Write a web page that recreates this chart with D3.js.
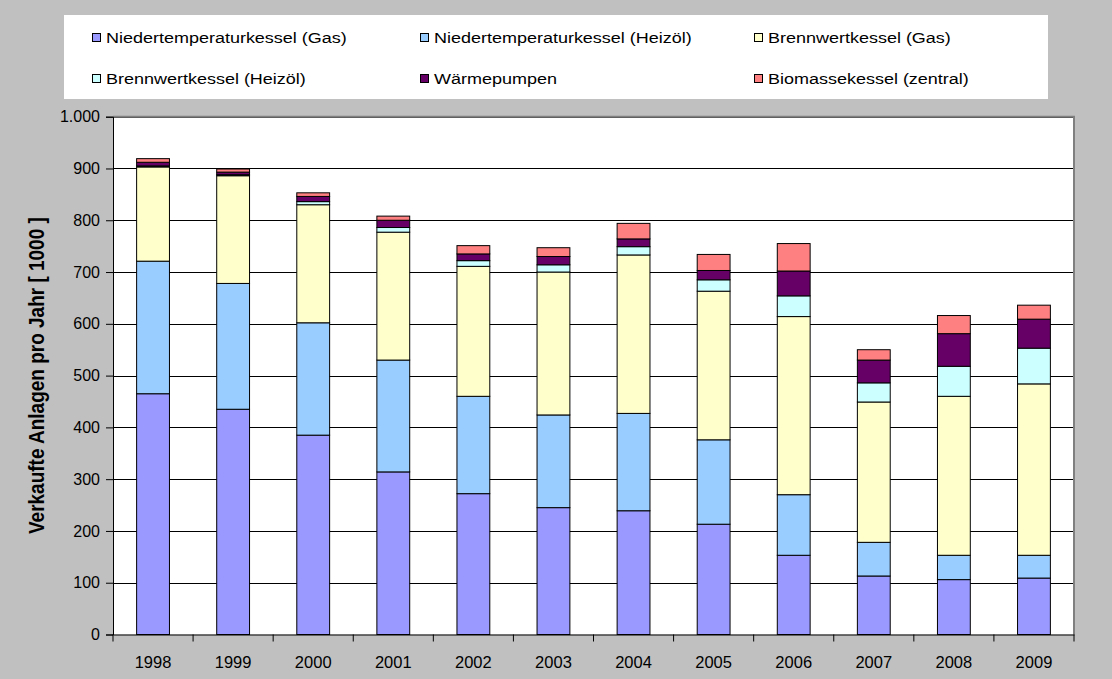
<!DOCTYPE html>
<html>
<head>
<meta charset="utf-8">
<script src="https://cdn.jsdelivr.net/npm/d3@7"></script>
<style>
  html, body { margin: 0; padding: 0; background: #c0c0c0; }
  #chart { width: 1112px; height: 679px; }
  text { font-family: Arial, "Liberation Sans", sans-serif; fill: #000; }
</style>
</head>
<body>
<div id="chart"></div>
<script>
// years and series values (in 1000 units sold per year)
const years = ["1998", "1999", "2000", "2001", "2002", "2003", "2004", "2005", "2006", "2007", "2008", "2009"];
const seriesNames = [
  "Niedertemperaturkessel (Gas)",
  "Niedertemperaturkessel (Heizöl)",
  "Brennwertkessel (Gas)",
  "Brennwertkessel (Heizöl)",
  "Wärmepumpen",
  "Biomassekessel (zentral)"
];
const ntGas = [465, 435, 385, 314, 272, 245, 239, 213, 153, 113, 106, 109];
const ntOil = [256, 243, 217, 216, 188, 179, 188, 163, 117, 65, 47, 44];
const bwGas = [182, 208, 228, 247, 251, 276, 306, 287, 344, 271, 307, 331];
const bwOil = [2, 2, 6, 9, 11, 14, 16, 22, 40, 37, 58, 69];
const heatPumps = [7, 5, 10, 14, 13, 16, 15, 18, 48, 44, 63, 56];
const biomass = [7, 6, 7, 8, 16, 17, 30, 31, 53, 20, 35, 27];
const yTicks = [0, 100, 200, 300, 400, 500, 600, 700, 800, 900, 1000];
const colors = ["#9999ff", "#99ccff", "#ffffcc", "#ccffff", "#660066", "#ff8080"];

const width = 1112, height = 679;
const plot = { left: 113, right: 1074, top: 116.7, bottom: 634.5 };

const svg = d3.select("#chart").append("svg")
  .attr("width", width)
  .attr("height", height);

svg.append("rect").attr("width", width).attr("height", height).attr("fill", "#c0c0c0");

// legend box
const legend = svg.append("g");
legend.append("rect")
  .attr("x", 64).attr("y", 15)
  .attr("width", 984).attr("height", 84)
  .attr("fill", "#fff");

const legendPos = [[92, 38], [420, 38], [754, 38], [92, 79], [420, 79], [754, 79]];
seriesNames.forEach((name, i) => {
  const [lx, ly] = legendPos[i];
  legend.append("rect")
    .attr("x", lx + 0.5).attr("y", ly - 4.5)
    .attr("width", 8).attr("height", 8)
    .attr("fill", colors[i])
    .attr("stroke", "#000").attr("stroke-width", 1);
  legend.append("text")
    .attr("transform", `translate(${lx + 14},${ly}) scale(1.2,1)`)
    .attr("dy", "0.35em")
    .style("font-size", "15px")
    .text(name);
});

// scales
const x = d3.scaleBand()
  .domain(years)
  .range([plot.left, plot.right])
  .paddingInner(0.59)
  .paddingOuter(0.295);

const y = d3.scaleLinear()
  .domain([0, 1000])
  .range([plot.bottom, plot.top]);

// plot area
svg.append("rect")
  .attr("x", plot.left).attr("y", plot.top)
  .attr("width", plot.right - plot.left).attr("height", plot.bottom - plot.top)
  .attr("fill", "#fff");

// gridlines
svg.append("g")
  .selectAll("line")
  .data(yTicks.filter(d => d > 0))
  .join("line")
  .attr("x1", plot.left).attr("x2", plot.right)
  .attr("y1", d => Math.round(y(d)) + 0.5).attr("y2", d => Math.round(y(d)) + 0.5)
  .attr("stroke", "#000").attr("stroke-width", 1);

// plot border (top/right)
svg.append("path")
  .attr("d", `M${plot.left},${plot.top}H${plot.right}V${plot.bottom}`)
  .attr("fill", "none")
  .attr("stroke", "#808080").attr("stroke-width", 2);

// stacked bars
const table = years.map((yr, i) => ({
  year: yr,
  s0: ntGas[i], s1: ntOil[i], s2: bwGas[i], s3: bwOil[i], s4: heatPumps[i], s5: biomass[i]
}));
const stacked = d3.stack().keys(["s0", "s1", "s2", "s3", "s4", "s5"])(table);

svg.append("g")
  .selectAll("g")
  .data(stacked)
  .join("g")
  .attr("fill", (d, i) => colors[i])
  .selectAll("rect")
  .data(d => d)
  .join("rect")
  .attr("x", d => x(d.data.year))
  .attr("width", x.bandwidth())
  .attr("y", d => y(d[1]))
  .attr("height", d => y(d[0]) - y(d[1]))
  .attr("stroke", "#000")
  .attr("stroke-width", 1);

// y axis
const yAxis = svg.append("g")
  .attr("transform", `translate(${plot.left},0)`)
  .call(d3.axisLeft(y)
    .tickValues(yTicks)
    .tickSize(7)
    .tickPadding(6)
    .tickFormat(d => d3.format(",")(d).replace(",", ".")));
yAxis.selectAll("text").style("font-size", "16px").attr("fill", "#000");
yAxis.selectAll("line, path").attr("stroke", "#000");

// x axis
const xAxis = svg.append("g")
  .attr("transform", `translate(0,${plot.bottom})`)
  .call(d3.axisBottom(x).tickSize(0).tickPadding(22));
xAxis.selectAll("text").style("font-size", "16.5px").attr("fill", "#000");
xAxis.select("path").attr("stroke", "#000");
// category separator ticks
xAxis.append("g")
  .selectAll("line")
  .data(d3.range(years.length + 1))
  .join("line")
  .attr("x1", i => plot.left + i * x.step())
  .attr("x2", i => plot.left + i * x.step())
  .attr("y1", 0).attr("y2", 7)
  .attr("stroke", "#000");

// y axis title
svg.append("text")
  .attr("transform", `translate(44,${(plot.top + plot.bottom) / 2}) scale(1.12,1) rotate(-90)`)
  .attr("text-anchor", "middle")
  .style("font-size", "19px")
  .style("font-weight", "bold")
  .text("Verkaufte Anlagen pro Jahr [ 1000 ]");
</script>
</body>
</html>
